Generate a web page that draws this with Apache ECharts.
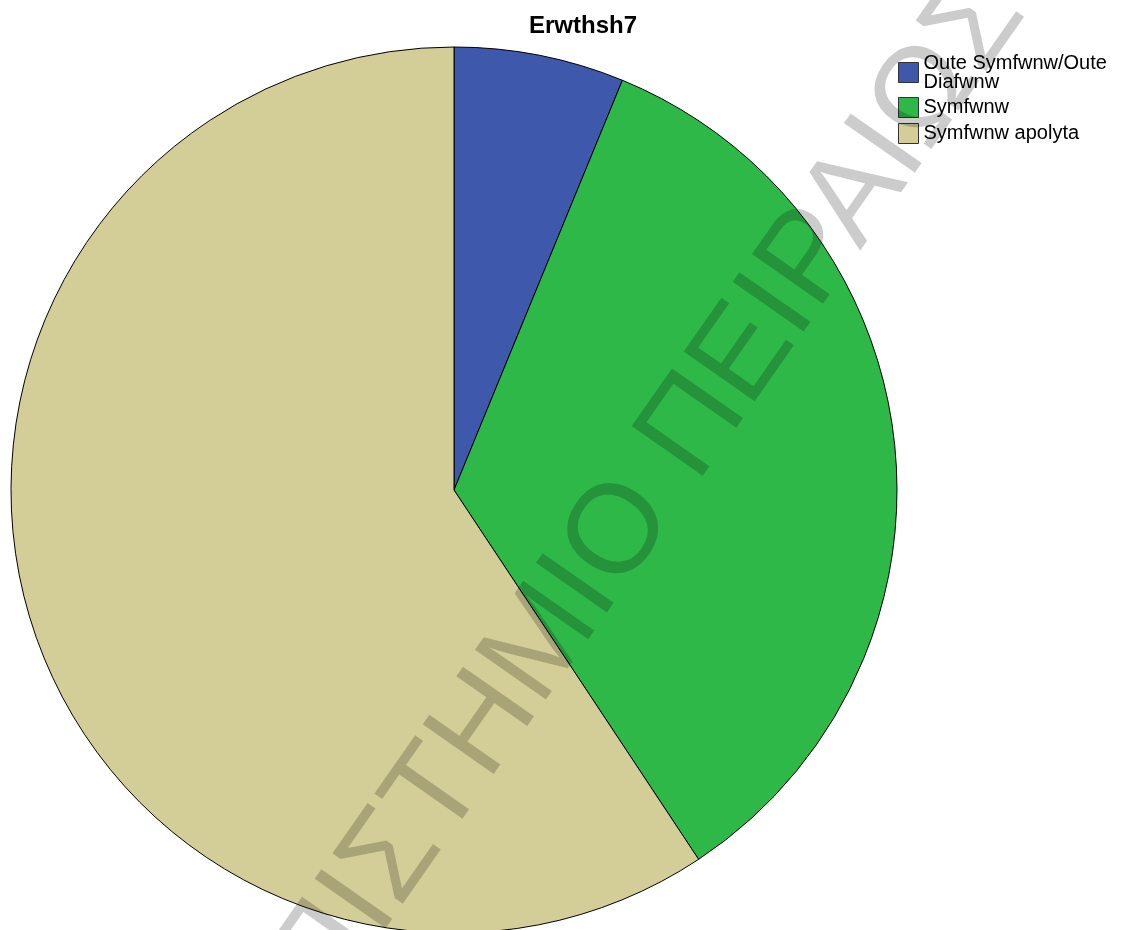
<!DOCTYPE html>
<html>
<head>
<meta charset="utf-8">
<script src="https://cdn.jsdelivr.net/npm/echarts@6/dist/echarts.min.js"></script>
<style>
html,body{margin:0;padding:0;background:#fff;}
#chart{width:1129px;height:930px;}
</style>
</head>
<body>
<div id="chart"></div>
<script>
const titleText = 'Erwthsh7';
const categories = ['Oute Symfwnw/Oute Diafwnw', 'Symfwnw', 'Symfwnw apolyta'];
const legendLabels = ['Oute Symfwnw/Oute\nDiafwnw', 'Symfwnw', 'Symfwnw apolyta'];
const values = [9, 50, 86];
const colors = ['#3e58ac', '#2eb848', '#d3ce97'];
const watermark = 'ΠΑΝΕΠΙΣΤΗΜΙΟ ΠΕΙΡΑΙΩΣ';

const chart = echarts.init(document.getElementById('chart'), null, {renderer: 'canvas'});
const data = categories.map((c, i) => ({name: c, value: values[i], itemStyle: {color: colors[i]}}));
const labelMap = {};
categories.forEach((c, i) => labelMap[c] = legendLabels[i]);

chart.setOption({
  animation: false,
  backgroundColor: '#ffffff',
  title: {
    text: titleText,
    left: 524,
    top: 9,
    textStyle: {fontFamily: 'Liberation Sans', fontSize: 24, fontWeight: 'bold', color: '#000'}
  },
  legend: {
    orient: 'vertical',
    left: 898,
    top: 53,
    padding: 0,
    itemWidth: 20,
    itemHeight: 20,
    itemGap: 5,
    icon: 'rect',
    selectedMode: false,
    data: categories,
    formatter: n => labelMap[n],
    itemStyle: {borderColor: '#333', borderWidth: 1},
    textStyle: {fontFamily: 'Liberation Sans', fontSize: 20, lineHeight: 19, color: '#000'}
  },
  series: [{
    type: 'pie',
    center: [454, 490],
    radius: 443,
    startAngle: 90,
    clockwise: true,
    label: {show: false},
    labelLine: {show: false},
    emphasis: {disabled: true},
    itemStyle: {borderColor: '#000', borderWidth: 1},
    data: data
  }],
  graphic: [{
    type: 'text',
    x: 548,
    y: 636,
    rotation: 55 * Math.PI / 180,
    z: 100,
    silent: true,
    style: {
      text: watermark,
      x: 0, y: 0,
      align: 'center',
      verticalAlign: 'middle',
      font: '126px "Liberation Sans"',
      fill: 'rgba(0,0,0,0.2)'
    }
  }]
});
</script>
</body>
</html>
